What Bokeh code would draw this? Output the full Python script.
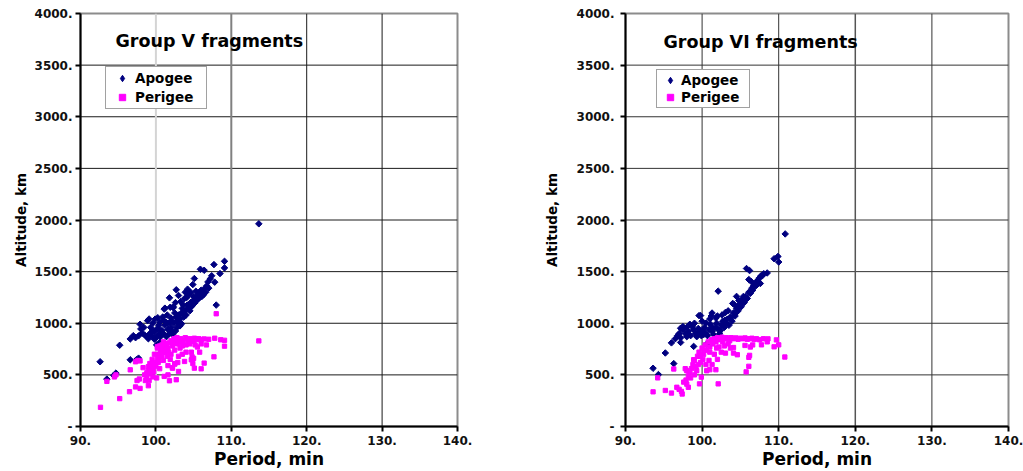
import numpy as np
from bokeh.plotting import figure
from bokeh.models import Range1d, Span, Label, Legend, LegendItem, FixedTicker
from bokeh.layouts import row
from bokeh.embed import file_html
from bokeh.resources import INLINE

# ---------------- data ----------------
x_ticks = [90, 100, 110, 120, 130, 140]
x_tick_labels = ["90.", "100.", "110.", "120.", "130.", "140."]
y_ticks = [0, 500, 1000, 1500, 2000, 2500, 3000, 3500, 4000]
y_tick_labels = ["-", "500.", "1000.", "1500.", "2000.", "2500.", "3000.", "3500.", "4000."]

titles = ["Group V fragments", "Group VI fragments"]
series_names = ["Apogee", "Perigee"]

# Group V : (period min, altitude km)
group5_apogee = [
    (92.6, 627), (93.5, 459), (94.4, 495), (94.7, 517), (95.2, 787), (96.6, 646), (97.4, 646), (97.7, 662),
    (96.6, 848), (97.3, 860), (97.7, 878), (98.0, 945), (98.2, 905), (98.6, 880), (98.9, 1025), (99.3, 960),
    (99.1, 1041), (98.8, 870), (99.2, 900), (99.5, 880), (99.8, 920), (100.0, 860), (100.2, 950), (100.3, 890),
    (100.6, 870), (100.8, 930), (101.0, 900), (101.2, 980), (101.4, 870), (101.6, 940), (101.8, 900),
    (102.0, 960), (102.2, 890), (102.4, 1000), (102.6, 925), (102.8, 960), (103.0, 1000), (99.6, 1000),
    (100.5, 1010), (100.25, 1054), (100.1, 790), (100.5, 815), (99.8, 845), (101.0, 1030), (101.1, 1137),
    (101.5, 1080), (102.0, 1050), (102.3, 1150), (102.5, 1100), (102.7, 1060), (103.0, 1080), (103.2, 1040),
    (103.5, 1144), (103.4, 1100), (103.7, 1060), (103.9, 1120), (104.0, 1080), (104.15, 1176), (104.3, 1150),
    (104.5, 1120), (104.6, 1200), (104.8, 1170), (105.0, 1224), (105.0, 1260), (105.2, 1200), (105.4, 1250),
    (105.6, 1280), (105.8, 1300), (104.6, 1300), (105.3, 1310), (106.0, 1320), (106.35, 1279), (106.5, 1340),
    (106.2, 1290), (105.7, 1240), (102.7, 1324), (103.0, 1269), (101.8, 1246), (105.1, 1433), (104.9, 1375),
    (106.75, 1362), (107.8, 1398), (108.0, 1176), (108.5, 1481), (106.4, 1513), (105.9, 1523), (107.7, 1568),
    (109.1, 1600), (109.1, 1536), (113.65, 1963), (106.9, 1400), (107.2, 1430), (107.4, 1460), (101.2, 1146),
    (102.3, 1160), (101.9, 1155), (103.3, 1210), (103.6, 1180), (104.1, 1250), (104.4, 1280), (103.8, 1240),
    (100.6, 930), (101.9, 1010), (102.1, 930), (103.2, 975), (103.4, 995), (102.9, 1030), (99.9, 1040),
    (100.9, 1060), (97.0, 880), (97.9, 990), (98.4, 960), (99.0, 850), (101.3, 1010), (102.6, 1200),
    (103.9, 1300), (104.2, 1330), (99.6, 930), (100.4, 980), (101.6, 1000), (102.2, 1020), (103.6, 1100),
    (104.7, 1160), (105.5, 1230), (106.1, 1260), (106.6, 1300), (107.0, 1340),
]
group5_perigee = [
    (92.65, 186), (93.5, 437), (94.5, 480), (94.7, 500), (95.2, 270), (96.5, 337), (96.6, 549), (97.3, 383),
    (97.9, 369), (97.5, 445), (97.8, 460), (97.3, 627), (97.6, 640), (97.9, 635), (99.0, 395), (98.6, 445),
    (99.1, 445), (98.8, 470), (98.5, 500), (98.8, 520), (99.0, 540), (99.2, 510), (99.4, 560), (99.5, 600),
    (99.7, 530), (99.9, 620), (100.0, 580), (100.2, 660), (100.4, 700), (100.3, 620), (100.6, 740),
    (100.8, 680), (101.0, 760), (101.2, 720), (101.4, 790), (101.6, 760), (101.8, 810), (102.0, 830),
    (102.2, 780), (102.4, 850), (102.6, 820), (102.8, 860), (103.0, 840), (103.3, 850), (103.6, 830),
    (103.9, 860), (104.2, 845), (104.5, 850), (104.8, 840), (105.1, 855), (105.4, 845), (105.7, 850),
    (106.0, 840), (106.4, 848), (106.7, 790), (107.0, 845), (107.8, 855), (108.6, 840), (109.1, 835),
    (109.1, 778), (113.65, 829), (108.0, 1092), (101.1, 485), (101.8, 443), (102.7, 453), (103.0, 533),
    (102.2, 570), (101.6, 590), (102.5, 610), (101.0, 640), (100.5, 560), (105.1, 565), (106.0, 559),
    (106.4, 614), (104.9, 610), (105.0, 660), (107.7, 675), (104.8, 675), (103.5, 700), (104.0, 720),
    (103.0, 680), (102.0, 700), (101.5, 680), (100.8, 790), (100.5, 780), (101.0, 820), (100.2, 760),
    (99.8, 700), (99.5, 650), (99.2, 610), (103.5, 780), (104.5, 800), (105.2, 790), (105.5, 770),
    (106.0, 800), (102.5, 740), (103.2, 760), (104.0, 790), (104.7, 720), (105.8, 720), (99.6, 480),
    (100.1, 470), (101.6, 500), (98.3, 570), (100.4, 640), (101.9, 650), (102.9, 620), (103.8, 630),
    (102.2, 565), (102.5, 604), (104.7, 646), (101.3, 807), (100.2, 774), (99.0, 580), (99.6, 560),
    (100.9, 720), (101.7, 720), (102.3, 800), (102.9, 800), (103.4, 820), (104.3, 820), (105.0, 825),
]

# Group VI : (period min, altitude km)
group6_apogee = [
    (93.6, 564), (94.3, 503), (95.2, 712), (96.3, 609), (96.0, 810), (97.2, 814), (98.9, 776), (100.6, 798),
    (96.5, 850), (96.8, 880), (97.0, 900), (97.2, 860), (97.4, 940), (97.5, 968), (97.8, 900), (98.0, 870),
    (98.2, 920), (98.5, 880), (98.7, 968), (98.9, 940), (99.1, 900), (99.3, 870), (99.5, 950), (99.7, 900),
    (99.9, 880), (100.1, 930), (100.3, 960), (100.5, 900), (100.7, 880), (100.9, 940), (101.1, 990),
    (101.3, 920), (101.5, 890), (101.7, 960), (101.9, 1000), (102.1, 940), (102.3, 900), (102.5, 980),
    (102.7, 1020), (102.9, 960), (103.1, 1000), (103.3, 1040), (103.5, 980), (103.7, 1060), (103.9, 1020),
    (104.1, 1100), (104.3, 1070), (104.5, 1140), (104.7, 1120), (104.9, 1180), (105.1, 1160), (105.3, 1220),
    (105.5, 1200), (105.7, 1260), (105.9, 1240), (106.1, 1300), (106.3, 1290), (106.5, 1340), (106.7, 1360),
    (106.9, 1380), (107.1, 1400), (107.3, 1420), (107.5, 1440), (107.7, 1460), (107.85, 1459), (108.5, 1487),
    (108.05, 1480), (106.1, 1423), (106.4, 1405), (107.1, 1368), (106.75, 1346), (105.8, 1530), (106.2, 1510),
    (109.9, 1647), (109.4, 1625), (110.0, 1593), (110.85, 1865), (102.1, 1311), (104.5, 1260), (105.2, 1230),
    (105.4, 1260), (104.0, 1192), (101.3, 1099), (101.2, 1070), (99.6, 1074), (99.8, 1074), (103.05, 1105),
    (100.5, 1000), (101.0, 1040), (99.0, 1000), (98.0, 960), (97.6, 950), (102.0, 1070), (102.6, 1080),
    (103.4, 1120), (104.2, 1180), (104.8, 1220), (100.0, 1020), (101.8, 1050), (98.4, 990), (97.2, 952),
    (102.8, 983), (103.7, 1048), (105.0, 1176), (107.6, 1385), (99.4, 910), (100.2, 890), (101.4, 950),
    (102.4, 930), (103.0, 1030), (104.4, 1100), (105.6, 1230), (106.6, 1320),
]
group6_perigee = [
    (93.6, 336), (94.2, 471), (95.2, 349), (96.0, 324), (96.7, 380), (97.0, 360), (97.3, 340), (97.4, 315),
    (96.3, 557), (99.66, 413), (99.9, 478), (102.1, 413), (98.9, 647), (97.6, 430), (97.9, 450), (98.2, 490),
    (98.4, 520), (98.6, 560), (98.8, 600), (99.0, 640), (99.2, 580), (99.4, 680), (99.6, 720), (99.8, 620),
    (100.0, 760), (100.2, 700), (100.4, 790), (100.6, 740), (100.8, 820), (101.0, 770), (101.2, 840),
    (101.4, 800), (101.6, 850), (101.8, 820), (102.0, 860), (102.3, 840), (102.6, 865), (102.9, 850),
    (103.2, 860), (103.5, 845), (103.8, 860), (104.1, 850), (104.4, 858), (104.7, 845), (105.0, 855),
    (105.3, 850), (105.6, 858), (105.9, 845), (106.2, 850), (106.5, 855), (106.8, 842), (107.1, 850),
    (107.5, 840), (108.0, 850), (108.6, 849), (108.5, 820), (109.7, 839), (109.4, 772), (110.0, 791),
    (110.8, 673), (107.75, 791), (106.3, 770), (106.6, 790), (105.6, 785), (104.1, 765), (105.75, 529),
    (106.1, 583), (106.1, 670), (106.2, 689), (104.6, 695), (104.1, 711), (103.05, 711), (98.0, 540),
    (98.5, 470), (99.0, 500), (99.3, 540), (99.5, 600), (100.1, 650), (100.5, 600), (100.9, 640),
    (101.3, 600), (101.6, 700), (102.0, 650), (102.5, 720), (102.2, 770), (102.9, 780), (103.4, 800),
    (103.7, 760), (100.6, 540), (101.0, 550), (101.8, 550), (97.8, 560), (98.2, 380), (98.0, 410),
    (99.8, 680), (100.3, 740), (101.0, 720), (101.9, 760), (102.7, 820), (103.6, 830),
]

charts = [
    (titles[0], group5_apogee, group5_perigee),
    (titles[1], group6_apogee, group6_perigee),
]

FONT = "DejaVu Sans"
APOGEE_COLOR = "#000080"
PERIGEE_COLOR = "#FF00FF"

# per-chart layout (pixels) -- styling only
layouts = [
    dict(width=512, bl=80, br=55, bt=12, bb=44, ylab_stand=3, ytick_stand=3,
         title_xy=(94.64, 3730), leg_loc=(25, 317), leg_pad=3, leg_spacing=3,
         leg_glyph_w=26, leg_label_w=68,
         vgrid={100: ("#d4d4d4", 2), 110: ("#808080", 2), 120: ("#1a1a1a", 1), 130: ("#1a1a1a", 1)},
         hgrid_color="#1a1a1a"),
    dict(width=511, bl=113, br=15, bt=13, bb=42, ylab_stand=14, ytick_stand=6,
         title_xy=(94.96, 3721), leg_loc=(31, 318), leg_pad=2, leg_spacing=1,
         leg_glyph_w=22, leg_label_w=66,
         vgrid={100: ("#333333", 1), 110: ("#333333", 1), 120: ("#555555", 1.5), 130: ("#333333", 1)},
         hgrid_color="#333333"),
]


def make_chart(title, apogee, perigee, L):
    p = figure(width=L["width"], height=471, x_range=Range1d(90, 140), y_range=Range1d(0, 4000),
               output_backend="svg", toolbar_location=None,
               min_border_left=L["bl"], min_border_right=L["br"],
               min_border_top=L["bt"], min_border_bottom=L["bb"],
               background_fill_color="white", border_fill_color="white")
    p.xgrid.visible = False
    p.ygrid.visible = False
    p.outline_line_color = "#8c8c8c"
    p.outline_line_width = 2

    for t in y_ticks[1:-1]:
        p.add_layout(Span(location=t, dimension="width", line_color=L["hgrid_color"],
                          line_width=1, level="underlay"))
    for t in x_ticks[1:-1]:
        c, w = L["vgrid"][t]
        p.add_layout(Span(location=t, dimension="height", line_color=c, line_width=w, level="underlay"))

    for ax in (p.xaxis[0], p.yaxis[0]):
        ax.axis_line_color = "black"
        ax.axis_line_width = 2
        ax.major_tick_line_color = "black"
        ax.major_tick_line_width = 2
        ax.major_tick_out = 5
        ax.major_tick_in = 0
        ax.minor_tick_out = 0
        ax.minor_tick_in = 0
        ax.major_label_text_font = FONT
        ax.major_label_text_font_style = "bold"
        ax.major_label_text_font_size = "12px"
        ax.major_label_text_color = "#111111"
        ax.axis_label_text_font = FONT
        ax.axis_label_text_font_style = "bold"
        ax.axis_label_text_color = "black"

    p.xaxis.ticker = FixedTicker(ticks=x_ticks)
    p.xaxis.major_label_overrides = {t: s for t, s in zip(x_ticks, x_tick_labels)}
    p.xaxis.axis_label = "Period, min"
    p.xaxis.axis_label_text_font_size = "17px"
    p.xaxis.axis_label_standoff = 1
    p.xaxis.major_label_standoff = 4

    p.yaxis.ticker = FixedTicker(ticks=y_ticks)
    p.yaxis.major_label_overrides = {t: s for t, s in zip(y_ticks, y_tick_labels)}
    p.yaxis.axis_label = "Altitude, km"
    p.yaxis.axis_label_text_font_size = "13.5px"
    p.yaxis.axis_label_standoff = L["ylab_stand"]
    p.yaxis.major_label_standoff = L["ytick_stand"]

    ax_x = [a[0] for a in apogee]
    ax_y = [a[1] for a in apogee]
    px_x = [a[0] for a in perigee]
    px_y = [a[1] for a in perigee]
    # hidden copy of the apogee series, used only to draw a diamond in the key
    r_apo_key = p.scatter(ax_x, ax_y, marker="diamond", size=7.5,
                          fill_color=APOGEE_COLOR, line_color=APOGEE_COLOR, visible=False)
    r_apo = p.scatter(ax_x, ax_y, marker="square", angle=np.pi / 4, size=4.6,
                      fill_color=APOGEE_COLOR, line_color=APOGEE_COLOR)
    r_per = p.scatter(px_x, px_y, marker="square", size=4.3,
                      fill_color=PERIGEE_COLOR, line_color=PERIGEE_COLOR)

    p.add_layout(Label(x=L["title_xy"][0], y=L["title_xy"][1], text=title, text_font=FONT,
                       text_font_style="bold", text_font_size="17.5px", text_baseline="middle",
                       text_color="black"))

    legend = Legend(items=[LegendItem(label=series_names[0], renderers=[r_apo_key]),
                           LegendItem(label=series_names[1], renderers=[r_per])],
                    location=L["leg_loc"], padding=L["leg_pad"],
                    spacing=L["leg_spacing"],
                    margin=0, glyph_width=L["leg_glyph_w"], glyph_height=16, label_height=16,
                    label_width=L["leg_label_w"], label_standoff=0,
                    label_text_font=FONT, label_text_font_style="bold",
                    label_text_font_size="13.5px", label_text_color="black",
                    border_line_color="#444444", border_line_width=1,
                    background_fill_color="white", background_fill_alpha=1.0,
                    inactive_fill_alpha=0.0)
    p.add_layout(legend)
    return p


figs = [make_chart(t, a, pr, L) for (t, a, pr), L in zip(charts, layouts)]
page = row(*figs)
open("out.html", "w").write(file_html(page, INLINE))
